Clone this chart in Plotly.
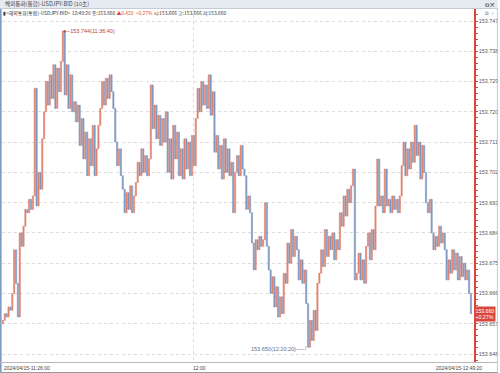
import pandas as pd
import plotly.graph_objects as go

# ---------------- data (20-second sampling) ----------------
start_time = "2024-04-15 11:26:00"
bar_seconds = 20
closes = [
    153.658, 153.660, 153.659, 153.662, 153.661, 153.666, 153.679, 153.669, 153.659, 153.684,
    153.680, 153.686, 153.691, 153.690, 153.694, 153.691, 153.695, 153.727, 153.692, 153.702,
    153.697, 153.712, 153.720, 153.729, 153.722, 153.731, 153.724, 153.734, 153.721, 153.733,
    153.726, 153.735, 153.744, 153.725, 153.734, 153.721, 153.731, 153.720, 153.723, 153.717,
    153.722, 153.710, 153.718, 153.706, 153.714, 153.701, 153.712, 153.704, 153.716, 153.701,
    153.709, 153.716, 153.721, 153.729, 153.722, 153.730, 153.724, 153.731, 153.726, 153.721,
    153.711, 153.704, 153.709, 153.701, 153.697, 153.690, 153.696, 153.691, 153.698, 153.690,
    153.695, 153.699, 153.705, 153.701, 153.709, 153.702, 153.707, 153.701, 153.706, 153.728,
    153.715, 153.722, 153.712, 153.719, 153.710, 153.718, 153.711, 153.720, 153.702, 153.712,
    153.700, 153.716, 153.706, 153.714, 153.701, 153.709, 153.700, 153.712, 153.703, 153.711,
    153.701, 153.713, 153.704, 153.718, 153.727, 153.720, 153.729, 153.722, 153.728, 153.721,
    153.731, 153.719, 153.726, 153.708, 153.713, 153.703, 153.710, 153.700, 153.712, 153.702,
    153.709, 153.701, 153.705, 153.690, 153.702, 153.707, 153.701, 153.710, 153.703, 153.701,
    153.691, 153.695, 153.690, 153.681, 153.673, 153.682, 153.679, 153.683, 153.680, 153.682,
    153.693, 153.680, 153.673, 153.666, 153.671, 153.662, 153.668, 153.659, 153.665, 153.660,
    153.672, 153.669, 153.681, 153.675, 153.685, 153.677, 153.683, 153.679, 153.670, 153.676,
    153.669, 153.673, 153.663, 153.650, 153.658, 153.652, 153.661, 153.655, 153.669, 153.672,
    153.679, 153.674, 153.685, 153.677, 153.683, 153.679, 153.684, 153.676, 153.682, 153.679,
    153.690, 153.686, 153.695, 153.689, 153.697, 153.693, 153.698, 153.703, 153.670, 153.672,
    153.678, 153.670, 153.676, 153.669, 153.680, 153.684, 153.676, 153.685, 153.679, 153.692,
    153.706, 153.692, 153.695, 153.690, 153.703, 153.692, 153.694, 153.690, 153.695, 153.691,
    153.694, 153.690, 153.695, 153.704, 153.711, 153.701, 153.709, 153.703, 153.711, 153.705,
    153.716, 153.707, 153.711, 153.700, 153.710, 153.702, 153.693, 153.690, 153.694, 153.684,
    153.679, 153.683, 153.680, 153.686, 153.681, 153.684, 153.679, 153.670, 153.676, 153.672,
    153.679, 153.673, 153.678, 153.670, 153.677, 153.671, 153.675, 153.670, 153.673, 153.666,
    153.660,
]
first_open = 153.657
y_ticks = [153.648, 153.657, 153.666, 153.675, 153.684, 153.693, 153.702,
           153.711, 153.720, 153.729, 153.738, 153.747]
x_labels = ["2024/04/15-11:26:00", "12:00", "2024/04/15-12:49:20"]
x_label_times = ["2024-04-15 11:26:00", "2024-04-15 12:00:00", "2024-04-15 12:49:20"]
high_text, high_time, high_value = "153.744(11:36:40)", "2024-04-15 11:36:40", 153.744
low_text, low_time, low_value = "153.650(12:20:20)", "2024-04-15 12:20:20", 153.650
last_price, last_change_pct = 153.660, "+0.27%"
title_text = "해외통화(통합)-USDJPY-BID (10초)"
info_text = ("▮<해외통화(통합)-USDJPY-BID> 12:49:20 종:153.660 "
             "<span style='color:#d9473a'>▲0.420  +0.27%</span> "
             "시:153.666 고:153.666 저:153.660")

# ---------------- build OHLC ----------------
times = pd.date_range(start_time, periods=len(closes), freq=f"{bar_seconds}s")
opens = [first_open] + closes[:-1]
highs = [max(o, c) for o, c in zip(opens, closes)]
lows = [min(o, c) for o, c in zip(opens, closes)]

RED = "#d9473a"
UP = "#df8371"
DOWN = "#7e98c0"
NUMFONT = "Liberation Sans, Arial, sans-serif"
KRFONT = "Noto Sans CJK KR, Noto Sans, sans-serif"
GRID = "#dcdcdc"

W, H = 500, 373
PX0, PX1, PY0, PY1 = 2, 476, 9, 362   # plot area in pixels


def px_x(x):
    return (x - PX0) / (PX1 - PX0)


def px_y(y):
    return (PY1 - y) / (PY1 - PY0)


# price <-> pixel relation
price_per_px = 0.009 / 30.27
y_range = [153.648 - (PY1 - 354) * price_per_px, 153.648 + (354 - PY0) * price_per_px]

t0 = pd.Timestamp(start_time)
sec_per_px = bar_seconds / 1.88
x_range = [t0 - pd.Timedelta(seconds=10),
           t0 - pd.Timedelta(seconds=10) + pd.Timedelta(seconds=(PX1 - PX0) * sec_per_px)]

fig = go.Figure(go.Candlestick(
    x=times, open=opens, high=highs, low=lows, close=closes,
    increasing=dict(line=dict(color=UP, width=0.6), fillcolor=UP),
    decreasing=dict(line=dict(color=DOWN, width=0.6), fillcolor=DOWN),
    whiskerwidth=0, hoverinfo="skip", showlegend=False,
))

shapes = [
    # title strip
    dict(type="rect", xref="paper", yref="paper", x0=px_x(0), x1=px_x(500),
         y0=px_y(8.5), y1=px_y(0), fillcolor="#e6ebf1", line=dict(width=0), layer="above"),
    dict(type="line", xref="paper", yref="paper", x0=px_x(0), x1=px_x(500),
         y0=px_y(8.5), y1=px_y(8.5), line=dict(color="#c4ccd6", width=1)),
    # left window edge
    dict(type="line", xref="paper", yref="paper", x0=px_x(0.8), x1=px_x(0.8),
         y0=px_y(9), y1=px_y(372), line=dict(color="#7e9bc3", width=1.6)),
    # bottom strip lines
    dict(type="line", xref="paper", yref="paper", x0=px_x(0), x1=px_x(500),
         y0=px_y(362.5), y1=px_y(362.5), line=dict(color="#b8b8b8", width=1)),
    dict(type="line", xref="paper", yref="paper", x0=px_x(0), x1=px_x(500),
         y0=px_y(372.5), y1=px_y(372.5), line=dict(color="#9a9a9a", width=1)),
    # right window edge
    dict(type="line", xref="paper", yref="paper", x0=px_x(499.5), x1=px_x(499.5),
         y0=px_y(9), y1=px_y(372), line=dict(color="#c8c8c8", width=1)),
]

annotations = [
    dict(xref="paper", yref="paper", x=px_x(3), y=px_y(4.3), xanchor="left", yanchor="middle",
         text=title_text, showarrow=False, font=dict(family=KRFONT, size=5.6, color="#4a4a4a")),
    dict(xref="paper", yref="paper", x=px_x(499), y=px_y(4.3), xanchor="right", yanchor="middle",
         text="⧉ ✕", showarrow=False, font=dict(family=KRFONT, size=6, color="#333")),
    dict(xref="paper", yref="paper", x=px_x(1), y=px_y(13.2), xanchor="left", yanchor="middle",
         text=info_text, showarrow=False, font=dict(family=KRFONT, size=4.9, color="#333")),
    dict(xref="paper", yref="paper", x=px_x(499), y=px_y(12.5), xanchor="right", yanchor="middle",
         text="⧉ ▫", showarrow=False, font=dict(family=KRFONT, size=5, color="#666")),
    # high marker
    dict(x=pd.Timestamp(high_time), y=high_value, xref="x", yref="y", xanchor="left",
         yanchor="middle", text="●─" + high_text, showarrow=False, xshift=-2,
         font=dict(family=NUMFONT, size=5.5, color="#b0483a")),
    # low marker
    dict(x=pd.Timestamp(low_time), y=low_value, xref="x", yref="y", xanchor="right",
         yanchor="middle", text=low_text + "──┘", showarrow=False, xshift=2, yshift=-2,
         font=dict(family=NUMFONT, size=5.5, color="#5a6f92")),
    # current price box
    dict(xref="paper", yref="y", x=1, y=last_price, xanchor="left", yanchor="middle",
         text=f"{last_price:.3f}<br>{last_change_pct}", showarrow=False, bgcolor=RED,
         borderpad=0.5, align="left", font=dict(family=NUMFONT, size=5.2, color="white")),
]
for lab, t in zip(x_labels, x_label_times):
    if lab == x_labels[-1]:
        anchor, shift = "right", 13
    elif lab == x_labels[0]:
        anchor, shift = "left", -1
    else:
        anchor, shift = "left", -3
    annotations.append(dict(
        xref="x", yref="paper", x=pd.Timestamp(t), y=px_y(367.5), xanchor=anchor, yanchor="middle",
        text=lab, showarrow=False, xshift=shift,
        font=dict(family=NUMFONT, size=5, color="#444")))

fig.update_layout(
    width=W, height=H,
    margin=dict(l=PX0, r=W - PX1, t=PY0, b=H - PY1, pad=0),
    paper_bgcolor="white", plot_bgcolor="white",
    boxgap=0.05,
    shapes=shapes, annotations=annotations,
    xaxis=dict(
        type="date", range=x_range, rangeslider=dict(visible=False),
        tickvals=[pd.Timestamp(x_label_times[1])], showticklabels=False, ticks="",
        showgrid=True, gridcolor=GRID, griddash="dot", gridwidth=1,
        showline=False, zeroline=False, fixedrange=True,
    ),
    yaxis=dict(
        side="right", range=y_range, tickvals=y_ticks,
        ticktext=[f"{v:.3f}" for v in y_ticks],
        tickfont=dict(family=NUMFONT, size=5.4, color="#555"),
        ticks="outside", ticklen=2, tickcolor=RED,
        minor=dict(dtick=0.0018, ticklen=2, tickcolor=RED, ticks="outside", showgrid=False),
        showgrid=True, gridcolor=GRID, griddash="dot", gridwidth=1,
        showline=True, linecolor=RED, linewidth=1.5, zeroline=False, fixedrange=True,
    ),
)

fig.write_html("out.html", post_script="document.body.style.margin='0';",
               config={"displayModeBar": False})
